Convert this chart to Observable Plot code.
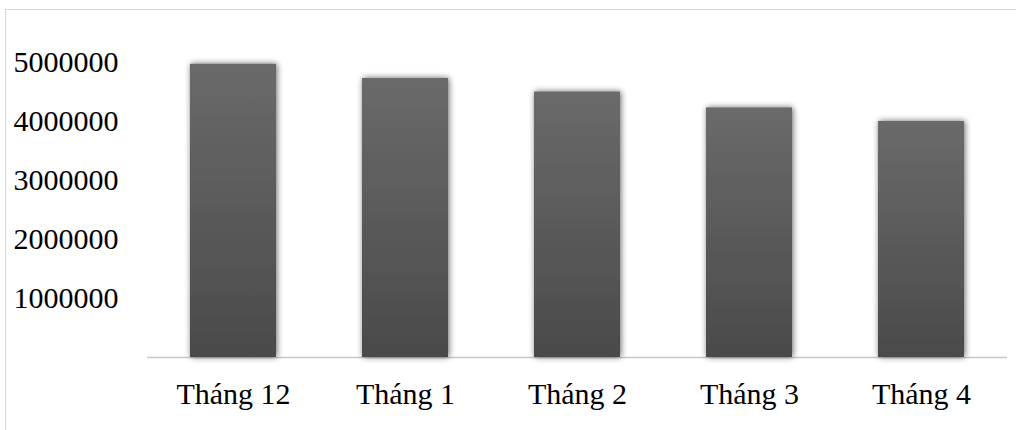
<!DOCTYPE html>
<html>
<head>
<meta charset="utf-8">
<script src="https://cdn.jsdelivr.net/npm/d3@7"></script>
<script src="https://cdn.jsdelivr.net/npm/@observablehq/plot@0.6"></script>
<style>
  html, body { margin: 0; padding: 0; background: #fff; }
  #wrap { position: relative; width: 1016px; height: 430px; overflow: hidden; }
  #frame { position: absolute; left: 5px; top: 9px; width: 1100px; height: 500px;
           border-top: 1px solid #d6d6d6; border-left: 1px solid #d6d6d6; pointer-events: none; }
  #chart svg { display: block; }
</style>
</head>
<body>
<div id="wrap">
  <div id="chart"></div>
  <div id="frame"></div>
</div>
<script>
const months = ["Tháng 12", "Tháng 1", "Tháng 2", "Tháng 3", "Tháng 4"];
const values = [4970000, 4730000, 4500000, 4230000, 4000000];
const yTicks = [1000000, 2000000, 3000000, 4000000, 5000000];

const data = months.map((m, i) => ({month: m, value: values[i]}));

const chart = Plot.plot({
  width: 1016,
  height: 430,
  marginLeft: 147,
  marginRight: 9,
  marginTop: 62,
  marginBottom: 73,
  style: {fontFamily: "'Liberation Serif', 'Times New Roman', serif", fontSize: "30px", color: "#000", background: "transparent"},
  x: {domain: months, paddingInner: 0.5, paddingOuter: 0.25, label: null},
  y: {domain: [0, 5000000], label: null},
  marks: [
    Plot.axisY({ticks: yTicks, tickSize: 0, tickPadding: 29, tickFormat: d3.format("d"), fill: "#000", label: null}),
    Plot.axisX({tickSize: 0, tickPadding: 25, fill: "#000", label: null}),
    Plot.ruleY([0], {stroke: "#c8c8c8", strokeWidth: 1.5}),
    Plot.barY(data, {x: "month", y: "value", fill: "url(#barGrad)"})
  ]
});

const ns = "http://www.w3.org/2000/svg";
const defs = document.createElementNS(ns, "defs");
defs.innerHTML = `
  <linearGradient id="barGrad" x1="0" y1="0" x2="0" y2="1">
    <stop offset="0%" stop-color="#6a6a6a"/>
    <stop offset="100%" stop-color="#4a4a4a"/>
  </linearGradient>
  <filter id="barShadow" x="-20%" y="-10%" width="140%" height="120%">
    <feGaussianBlur in="SourceAlpha" stdDeviation="3"/>
    <feOffset dx="1" dy="0" result="b"/>
    <feComponentTransfer><feFuncA type="linear" slope="0.6"/></feComponentTransfer>
    <feMerge><feMergeNode/><feMergeNode in="SourceGraphic"/></feMerge>
  </filter>`;
chart.insertBefore(defs, chart.firstChild);
chart.querySelectorAll("g[aria-label='bar'] rect").forEach(r => r.setAttribute("filter", "url(#barShadow)"));
document.getElementById("chart").appendChild(chart);
</script>
</body>
</html>
